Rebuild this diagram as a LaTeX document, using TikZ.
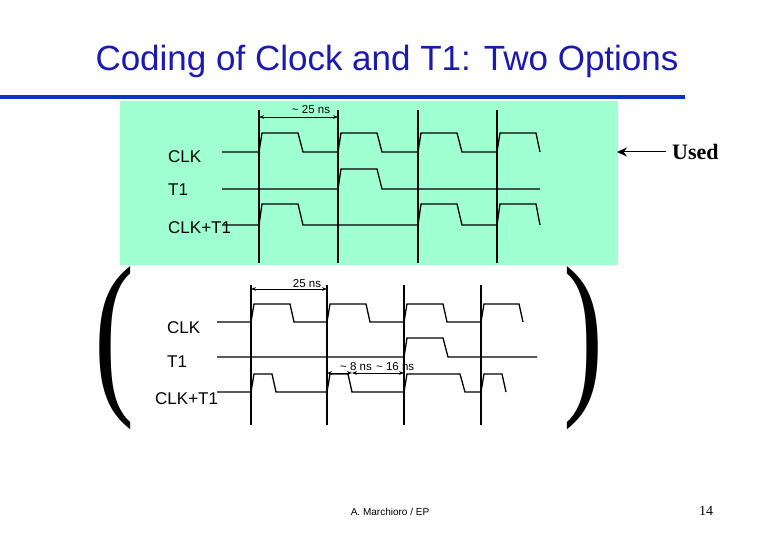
\documentclass[tikz,border=0pt]{standalone}
\usepackage{fontspec}
\usepackage{graphicx}
\usetikzlibrary{arrows.meta}
\setmainfont{Liberation Sans}
\newfontfamily\serif{Liberation Serif}
\definecolor{bg}{HTML}{A0FFD0}
\definecolor{tblue}{HTML}{1A1AB0}
\definecolor{rule}{HTML}{0A33CC}
\newcommand\pu[5]{-- (#1,#3) -- ({#1+3},#2) -- ({#1+#4},#2) -- ({#1+#4+#5},#3)}
\tikzset{wave/.style={line width=1.3pt,line join=miter},grid/.style={line width=1.3pt},
 lab/.style={anchor=west,font=\fontsize{17}{18}\selectfont,inner sep=0pt},
 dim/.style={{Stealth[length=5pt]}-{Stealth[length=5pt]},line width=0.8pt},
 small/.style={font=\fontsize{11.5}{12}\selectfont,inner sep=0pt}}
\begin{document}
\begin{tikzpicture}[x=1pt,y=-1pt]
\useasboundingbox (0,0) rectangle (780,540);
\node[text=tblue,font=\fontsize{35}{38}\selectfont] (title) at (387,61) {Coding of Clock and T1: Two Options};
\draw[rule,line width=3.5pt] (0,97) -- (685,97);
% top panel
\fill[bg] (120,101) rectangle (618,265);
\foreach \x in {259,338,418,497} \draw[grid] (\x,110) -- (\x,263);
\draw[wave] (222,152) \pu{259}{133}{152}{39}{5} \pu{338}{133}{152}{39}{5} \pu{418}{133}{152}{39}{5} \pu{497}{133}{152}{39}{4};
\draw[wave] (222,189) \pu{338}{169}{189}{39}{5} -- (540,189);
\draw[wave] (222,225) \pu{259}{204}{225}{39}{5} -- (418,225) \pu{418}{204}{225}{39}{5} \pu{497}{204}{225}{39}{4};
\node[lab] (c1) at (168,157) {CLK};
\node[lab] (t1) at (168,190) {T1};
\node[lab] (ct1) at (168,228) {CLK+T1};
\coordinate (a1) at (259,117); \coordinate (a2) at (338,117);
\draw[dim] (a1) -- (a2);
\node[small] (d1) at (311,110) {\textasciitilde{} 25 ns};
\node[font=\serif\bfseries\fontsize{22}{24}\selectfont,anchor=west,inner sep=0pt] (used) at (672,152) {Used};
\draw[-{Stealth[length=10pt,width=9pt]},line width=1pt] (used.west) ++(-6,0) -- (617,152);
% bottom
\foreach \x in {251,327,404,481} \draw[grid] (\x,285) -- (\x,425);
\draw[wave] (217,322) \pu{251}{304}{322}{39}{4} \pu{327}{304}{322}{39}{4} \pu{404}{304}{322}{39}{4} \pu{481}{304}{322}{38}{4};
\draw[wave] (217,357) -- (404,357) \pu{404}{338}{357}{39}{5} -- (537,357);
\draw[wave] (217,392) \pu{251}{374}{392}{21}{4} -- (327,392) \pu{327}{374}{392}{21}{4} -- (404,392) \pu{404}{374}{392}{56}{5} -- (481,392) \pu{481}{374}{392}{21}{4};
\node[lab] (c2) at (167,328) {CLK};
\node[lab] (t2) at (167,362) {T1};
\node[lab] (ct2) at (155,399) {CLK+T1};
\coordinate (b1) at (251,289); \coordinate (b2) at (327,289);
\draw[dim] (b1) -- (b2);
\node[small] (d2) at (307,284) {25 ns};
\coordinate (e1) at (327,373); \coordinate (e2) at (352,373); \coordinate (e3) at (404,373);
\draw[dim] (e1) -- (e2);
\draw[dim] (e2) -- (e3);
\node[small,anchor=west] (d3) at (340,367) {\textasciitilde{} 8 ns};
\node[small,anchor=west] (d4) at (376,367) {\textasciitilde{} 16 ns};
\node[inner sep=0pt] (lp) at (115,348) {\resizebox{40pt}{125pt}{\serif(}};
\node[inner sep=0pt] (rp) at (584,348) {\resizebox{40pt}{125pt}{\serif)}};
\node[font=\fontsize{10}{11}\selectfont] (foot) at (390,512) {A. Marchioro / EP};
\node[font=\serif\fontsize{14}{15}\selectfont] (pg) at (706,511) {14};
\end{tikzpicture}
\end{document}
